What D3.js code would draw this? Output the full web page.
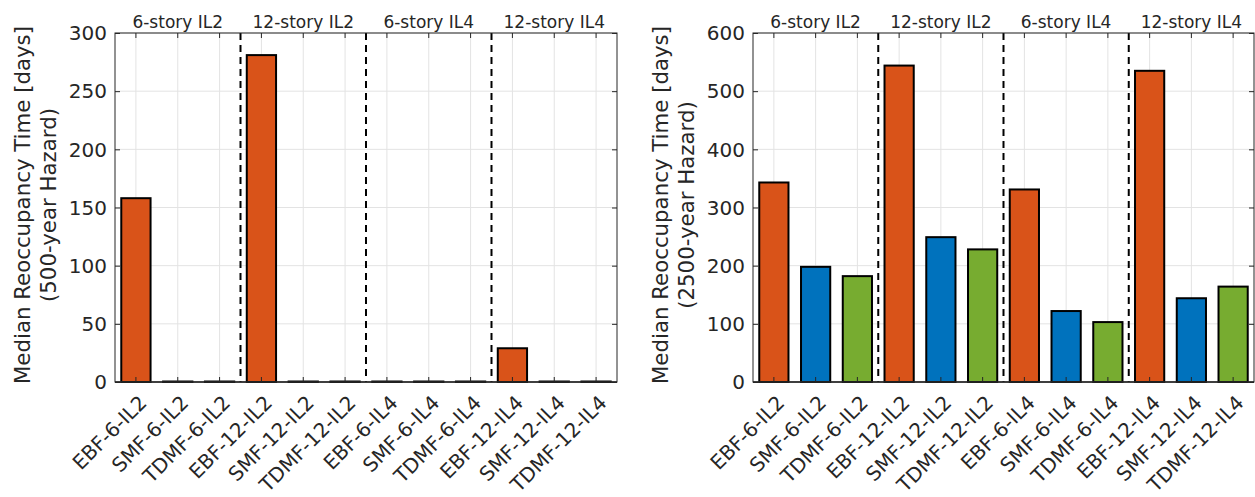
<!DOCTYPE html>
<html>
  <head>
    <meta charset="utf-8">
    <title>Median reoccupancy time</title>
    <style type="text/css">
      body {
        margin: 0;
        background: #fff;
        font-family: "DejaVu Sans", sans-serif;
      }
      .tick-label {
        font-size: 20px;
        fill: #262626;
      }
      .group-label {
        font-size: 17px;
        fill: #262626;
      }
      .y-title {
        font-size: 21.3px;
        fill: #262626;
      }
      .grid line {
        stroke: #e3e3e3;
        stroke-width: 1px;
      }
      .divider {
        stroke: #000;
        stroke-width: 2px;
        stroke-dasharray: 7 5;
      }
      .bar {
        stroke: #000;
        stroke-width: 2px;
      }
      .frame {
        fill: none;
        stroke: #262626;
        stroke-width: 1px;
      }
    </style>
  </head>
  <body>
    <script src="https://d3js.org/d3.v7.min.js"></script>
    <script>
    // categories (12 buildings), 4 groups of 3
    var categories = ["EBF-6-IL2", "SMF-6-IL2", "TDMF-6-IL2",
                      "EBF-12-IL2", "SMF-12-IL2", "TDMF-12-IL2",
                      "EBF-6-IL4", "SMF-6-IL4", "TDMF-6-IL4",
                      "EBF-12-IL4", "SMF-12-IL4", "TDMF-12-IL4"];
    var groups = ["6-story IL2", "12-story IL2", "6-story IL4", "12-story IL4"];
    var systems = ["EBF", "SMF", "TDMF"];

    // median reoccupancy time [days]
    var values500 = [158, 0, 0, 281, 0, 0, 0, 0, 0, 29, 0, 0];
    var values2500 = [343, 198, 182, 544, 249, 228, 331, 122, 103, 535, 144, 164];

    var ticks500 = [0, 50, 100, 150, 200, 250, 300];
    var ticks2500 = [0, 100, 200, 300, 400, 500, 600];

    var colors = {EBF: "#d95319", SMF: "#0072bd", TDMF: "#77ac30"};

    var W = 1255, H = 497;
    var svg = d3.select("body").append("svg")
        .attr("width", W)
        .attr("height", H);

    function panel(left, right, values, ticks, hazard, useColors) {
      var top = 33, bottom = 382;

      var x = d3.scaleBand()
          .domain(categories)
          .range([left, right])
          .padding(0);

      var y = d3.scaleLinear()
          .domain([ticks[0], ticks[ticks.length - 1]])
          .range([bottom, top]);

      var g = svg.append("g");

      // grid
      var grid = g.append("g").attr("class", "grid");
      grid.selectAll("line.h")
          .data(ticks)
          .enter().append("line")
          .attr("x1", left).attr("x2", right)
          .attr("y1", function(d) { return y(d); })
          .attr("y2", function(d) { return y(d); });
      grid.selectAll("line.v")
          .data(categories)
          .enter().append("line")
          .attr("x1", function(d) { return x(d) + x.bandwidth() / 2; })
          .attr("x2", function(d) { return x(d) + x.bandwidth() / 2; })
          .attr("y1", top).attr("y2", bottom);

      // bars
      var bw = x.bandwidth() * 0.7;
      g.selectAll("rect.bar")
          .data(values)
          .enter().append("rect")
          .attr("class", "bar")
          .attr("x", function(d, i) { return x(categories[i]) + (x.bandwidth() - bw) / 2; })
          .attr("width", bw)
          .attr("y", function(d) { return Math.min(y(d), bottom - 0.5); })
          .attr("height", function(d) { return Math.max(bottom - y(d), 0.5); })
          .style("fill", function(d, i) {
            return useColors ? colors[systems[i % 3]] : colors.EBF;
          });

      // dashed group dividers
      g.selectAll("line.divider")
          .data([3, 6, 9])
          .enter().append("line")
          .attr("class", "divider")
          .attr("x1", function(d) { return x(categories[d]); })
          .attr("x2", function(d) { return x(categories[d]); })
          .attr("y1", top).attr("y2", bottom);

      // axes (inward ticks on all four sides)
      var yLeft = d3.axisRight(y).tickValues(ticks).tickSize(5).tickFormat("");
      var yRight = d3.axisLeft(y).tickValues(ticks).tickSize(5).tickFormat("");
      var xBottom = d3.axisTop(x).tickSize(5).tickFormat("");
      var xTop = d3.axisBottom(x).tickSize(5).tickFormat("");
      [[yLeft, "translate(" + left + ",0)"],
       [yRight, "translate(" + right + ",0)"],
       [xBottom, "translate(0," + bottom + ")"],
       [xTop, "translate(0," + top + ")"]].forEach(function(a) {
        var ax = g.append("g").attr("transform", a[1]).call(a[0]);
        ax.select(".domain").remove();
        ax.selectAll("line").attr("stroke", "#262626");
      });

      g.append("rect")
          .attr("class", "frame")
          .attr("x", left).attr("y", top)
          .attr("width", right - left).attr("height", bottom - top);
      g.append("line")
          .attr("x1", left).attr("x2", right)
          .attr("y1", bottom).attr("y2", bottom)
          .attr("stroke", "#262626")
          .attr("stroke-width", 1.5);

      // y tick labels
      g.selectAll("text.yt")
          .data(ticks)
          .enter().append("text")
          .attr("class", "tick-label")
          .attr("x", left - 8)
          .attr("y", function(d) { return y(d); })
          .attr("dy", "0.36em")
          .attr("text-anchor", "end")
          .text(function(d) { return d; });

      // x tick labels, rotated 45 degrees
      g.selectAll("text.xt")
          .data(categories)
          .enter().append("text")
          .attr("class", "tick-label")
          .attr("text-anchor", "end")
          .attr("transform", function(d) {
            var cx = x(d) + x.bandwidth() / 2 + 12;
            return "translate(" + cx + "," + (bottom + 22) + ") rotate(-45)";
          })
          .text(function(d) { return d; });

      // group labels above the plot
      g.selectAll("text.group")
          .data(groups)
          .enter().append("text")
          .attr("class", "group-label")
          .attr("x", function(d, i) {
            return x(categories[i * 3 + 1]) + x.bandwidth() / 2;
          })
          .attr("y", 28)
          .attr("text-anchor", "middle")
          .text(function(d) { return d; });

      // y title, two lines
      var cy = 205;
      var title = g.append("text")
          .attr("class", "y-title")
          .attr("text-anchor", "middle")
          .attr("transform", "translate(" + (left - 85) + "," + cy + ") rotate(-90)");
      title.append("tspan").attr("x", 0).attr("y", 0).text("Median Reoccupancy Time [days]");
      title.append("tspan").attr("x", 0).attr("y", 26).text("(" + hazard + "-year Hazard)");
    }

    panel(115, 617, values500, ticks500, "500", false);
    panel(753, 1254, values2500, ticks2500, "2500", true);
    </script>
  </body>
</html>
